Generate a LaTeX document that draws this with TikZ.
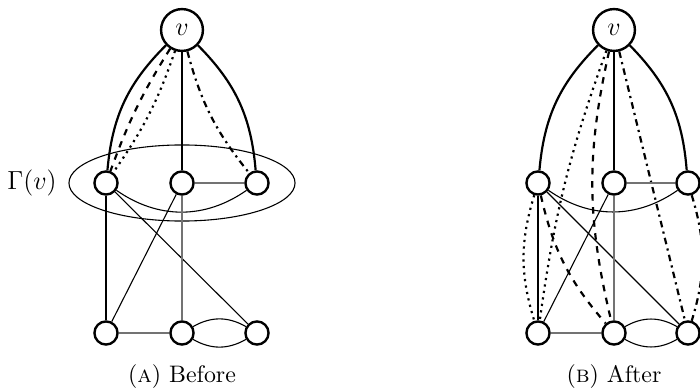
\documentclass[tikz,border=0pt]{standalone}
\usetikzlibrary{shapes.geometric}
\begin{document}
\begin{tikzpicture}[x=0.4587pt,y=0.4587pt,
  vtx/.style={circle,draw,line width=1.1pt,minimum size=10.6pt,inner sep=0pt},
  topv/.style={circle,draw,line width=1.1pt,minimum size=19.2pt,inner sep=0pt,font=\fontsize{12}{14.5}\selectfont},
  lab/.style={font=\fontsize{12}{14.5}\selectfont},
  capt/.style={font=\fontsize{10.95}{13.6}\selectfont},
  thk/.style={line width=1pt},
  thn/.style={line width=0.5pt},
  gry/.style={line width=0.8pt,draw=black!55},
  dsh/.style={line width=1pt,dashed},
  dtd/.style={line width=1pt,dotted},
  dshdt/.style={line width=1pt,dash dot}
]
\useasboundingbox (0,0) rectangle (700,388);

% ---------- (a) Before ----------
\node[draw,ellipse,line width=0.5pt,minimum width=103.7pt,minimum height=34.9pt,inner sep=0pt] (gam) at (182,205) {};
\node[topv] (v)  at (182,358) {$v$};
\node[vtx]  (a1) at (106,205) {};
\node[vtx]  (a2) at (182,205) {};
\node[vtx]  (a3) at (257,205) {};
\node[vtx]  (b1) at (106,55) {};
\node[vtx]  (b2) at (182,55) {};
\node[vtx]  (b3) at (257,55) {};
\node[lab] (glab) at (32,205) {$\Gamma(v)$};
\node[capt] (capa) at (182,11) {(\textsc{a})\ Before};

\draw[thk] (v) to[bend right=20] (a1);
\draw[dsh] (v) to[bend right=6] (a1);
\draw[dtd] (v) to[bend left=8] (a1);
\draw[thk] (v) -- (a2);
\draw[thk] (v) to[bend left=20] (a3);
\draw[dshdt] (v) to[bend right=12] (a3);
\draw[gry] (a2) -- (a3);
\draw[thn] (a1) to[bend right=35] (a3);
\draw[thn] (a1) -- (b1);
\draw[thn] (a1) -- (b3);
\draw[thn] (a2) -- (b1);
\draw[gry] (a2) -- (b2);
\draw[gry] (b1) -- (b2);
\draw[thn] (b2) to[bend left=30] (b3);
\draw[thn] (b2) to[bend right=30] (b3);

% ---------- (b) After ----------
\node[topv] (w)  at (614,358) {$v$};
\node[vtx]  (c1) at (538,205) {};
\node[vtx]  (c2) at (614,205) {};
\node[vtx]  (c3) at (688,205) {};
\node[vtx]  (d1) at (538,55) {};
\node[vtx]  (d2) at (614,55) {};
\node[vtx]  (d3) at (688,55) {};
\node[capt] (capb) at (614,11) {(\textsc{b})\ After};

\draw[thk] (w) to[bend right=20] (c1);
\draw[thk] (w) -- (c2);
\draw[thk] (w) to[bend left=20] (c3);
\draw[dtd] (w) to[bend right=6] (d1);
\draw[dsh] (w) to[bend right=13] (d2);
\draw[dshdt] (w) -- (d3);
\draw[dtd] (c1) to[bend right=17] (d1);
\draw[dsh] (c1) to[bend right=14] (d2);
\draw[dshdt] (c3) to[bend left=17] (d3);
\draw[gry] (c2) -- (c3);
\draw[thn] (c1) to[bend right=35] (c3);
\draw[thn] (c1) -- (d1);
\draw[thn] (c1) -- (d3);
\draw[thn] (c2) -- (d1);
\draw[gry] (c2) -- (d2);
\draw[gry] (d1) -- (d2);
\draw[thn] (d2) to[bend left=30] (d3);
\draw[thn] (d2) to[bend right=30] (d3);
\end{tikzpicture}
\end{document}
